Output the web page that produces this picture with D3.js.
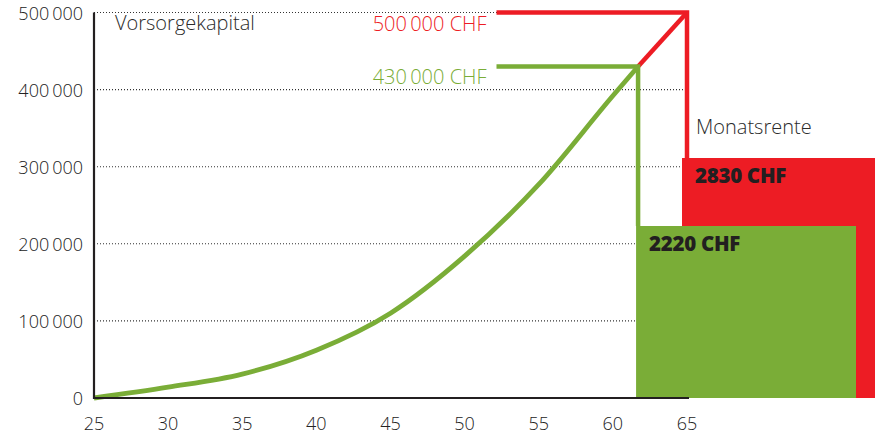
<!DOCTYPE html>
<html>
<head>
<meta charset="utf-8">
<script src="https://cdn.jsdelivr.net/npm/d3@7"></script>
<style>
  html, body { margin: 0; padding: 0; background: #fff; }
  svg { display: block; }
  text { font-family: "Open Sans", sans-serif; }
</style>
</head>
<body>
<div id="chart"></div>
<script>
// ---- data ----
const ages = [25, 30, 35, 40, 45, 50, 55, 60, 61.7];
const capital = [0, 14000, 31000, 62000, 110000, 184000, 277000, 392000, 430000];
const xTicks = [25, 30, 35, 40, 45, 50, 55, 60, 65];
const yTicks = [0, 100000, 200000, 300000, 400000, 500000];
const retireAge = [61.7, 65];
const finalCapital = [430000, 500000];
const capitalLabels = ["430\u2009000 CHF", "500\u2009000 CHF"];
const rente = [2220, 2830];
const renteLabels = ["2220 CHF", "2830 CHF"];
const renteEndAge = [76.4, 80];
const labelAge = 52.15;
const colors = ["#7aad37", "#ed1c24"];

// ---- layout ----
const W = 875, H = 434;
const svg = d3.select("#chart").append("svg").attr("width", W).attr("height", H);

const x = d3.scaleLinear().domain([25, 65]).range([94, 687]);
const y = d3.scaleLinear().domain([0, 500000]).range([398, 12.5]);
const yR = d3.scaleLinear().domain([677, 2830]).range([398, 158]);

const fmt = v => d3.format(",")(v).replace(/,/g, "\u2009");

// gridlines
svg.append("g").selectAll("line").data(yTicks.filter(d => d > 0)).join("line")
  .attr("x1", x(25)).attr("x2", x(65))
  .attr("y1", d => y(d)).attr("y2", d => y(d))
  .attr("stroke", "#333").attr("stroke-width", 1.1)
  .attr("stroke-dasharray", "1,2");

// rente rects (red first, green on top)
const idx = [1, 0];
svg.append("g").selectAll("rect").data(idx).join("rect")
  .attr("x", i => x(retireAge[i]) - (i === 1 ? 5 : 2))
  .attr("y", i => yR(rente[i]))
  .attr("width", i => x(renteEndAge[i]) - x(retireAge[i]) + (i === 1 ? 5 : 2))
  .attr("height", i => yR.range()[0] - yR(rente[i]))
  .attr("fill", i => colors[i]);

// red diagonal + leader lines
const line = d3.line();
svg.append("path")
  .attr("d", line([[x(retireAge[0]), y(finalCapital[0])], [x(retireAge[1]), y(finalCapital[1])]]))
  .attr("fill", "none").attr("stroke", colors[1]).attr("stroke-width", 4.5);

[1, 0].forEach(i => {
  svg.append("path")
    .attr("d", line([
      [x(labelAge), y(finalCapital[i])],
      [x(retireAge[i]), y(finalCapital[i])],
      [x(retireAge[i]), yR(rente[i])]
    ]))
    .attr("fill", "none").attr("stroke", colors[i]).attr("stroke-width", 4.5)
    .attr("stroke-linejoin", "miter");
});

// capital curve
svg.append("path")
  .datum(ages.map((a, i) => [a, capital[i]]))
  .attr("d", d3.line().x(d => x(d[0])).y(d => y(d[1])).curve(d3.curveMonotoneX))
  .attr("fill", "none").attr("stroke", colors[0]).attr("stroke-width", 4.8)
  .attr("stroke-linejoin", "round");

// capital labels
[1, 0].forEach(i => {
  svg.append("text")
    .attr("x", x(labelAge) - 10).attr("y", y(finalCapital[i]) + 18)
    .attr("text-anchor", "end")
    .attr("font-size", 20).attr("font-weight", 300)
    .attr("fill", colors[i])
    .text(capitalLabels[i]);
});

// rente labels
[1, 0].forEach(i => {
  svg.append("text")
    .attr("x", x(retireAge[i]) - (i === 1 ? 5 : 2) + 13)
    .attr("y", yR(rente[i]) + 25)
    .attr("font-size", 20.5).attr("font-weight", 800)
    .attr("letter-spacing", -0.3)
    .attr("fill", "#231f20")
    .text(renteLabels[i]);
});

// titles
svg.append("text").attr("x", 115).attr("y", 30)
  .attr("font-size", 20).attr("font-weight", 300).attr("fill", "#2b2b2b")
  .text("Vorsorgekapital");
svg.append("text").attr("x", x(65) + 9).attr("y", yR(rente[1]) - 24)
  .attr("font-size", 20).attr("font-weight", 300).attr("fill", "#2b2b2b")
  .text("Monatsrente");

// axes
svg.append("line")
  .attr("x1", x(25)).attr("x2", x(65) + 2)
  .attr("y1", y(0)).attr("y2", y(0))
  .attr("stroke", "#231f20").attr("stroke-width", 2.2);
svg.append("line")
  .attr("x1", x(25)).attr("x2", x(25))
  .attr("y1", y(500000)).attr("y2", y(0) + 1)
  .attr("stroke", "#231f20").attr("stroke-width", 2.2);

// tick labels
svg.append("g").selectAll("text").data(yTicks).join("text")
  .attr("x", x(25) - 11).attr("y", d => y(d) + 7)
  .attr("text-anchor", "end").attr("font-size", 18).attr("font-weight", 300)
  .attr("fill", "#222")
  .text(fmt);
svg.append("g").selectAll("text").data(xTicks).join("text")
  .attr("x", d => x(d)).attr("y", 430)
  .attr("text-anchor", "middle").attr("font-size", 18).attr("font-weight", 300)
  .attr("fill", "#222")
  .text(d => d);
</script>
</body>
</html>
